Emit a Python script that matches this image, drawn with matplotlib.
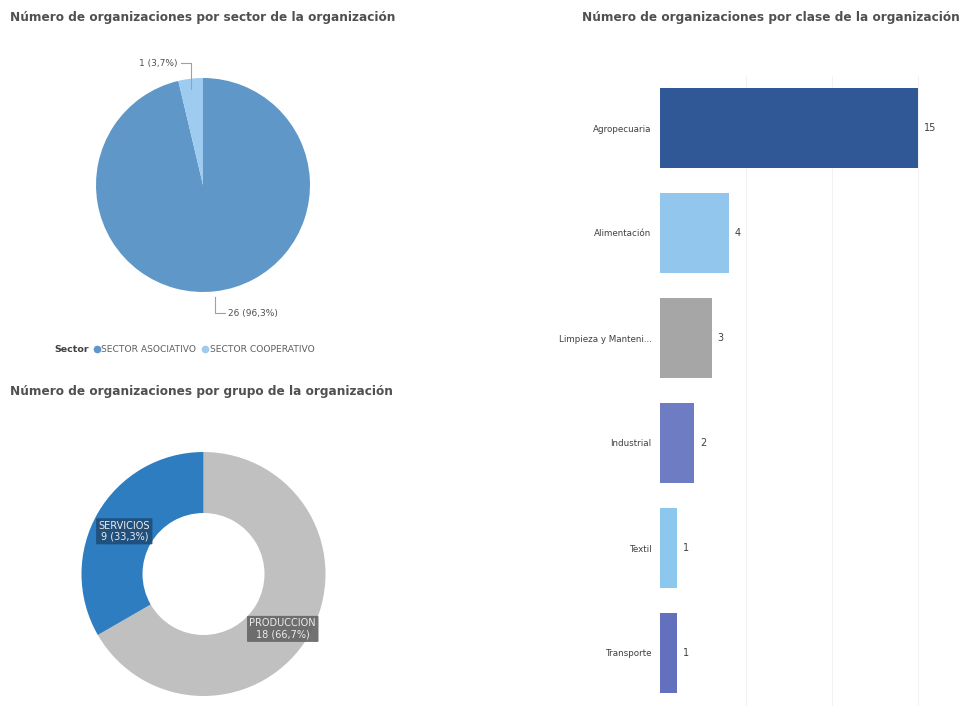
import numpy as np
import matplotlib
matplotlib.use("Agg")
import matplotlib.pyplot as plt
from matplotlib.lines import Line2D

plt.rcParams['font.family'] = ['DejaVu Sans']

# data
sector_names = ['SECTOR ASOCIATIVO', 'SECTOR COOPERATIVO']
sector_vals = [26, 1]
sector_colors = ['#5f98c8', '#9dccf0']

grupo_names = ['PRODUCCION', 'SERVICIOS']
grupo_vals = [18, 9]
grupo_colors = ['#c0c0c0', '#2e7dc0']

clase_names = ['Agropecuaria', 'Alimentación', 'Limpieza y Manteni...', 'Industrial', 'Textil', 'Transporte']
clase_vals = [15, 4, 3, 2, 1, 1]
clase_colors = ['#305796', '#92c6ec', '#a6a6a6', '#6e7dc3', '#8cc8ee', '#6270be']

W, H = 960, 706
fig = plt.figure(figsize=(W / 100, H / 100), dpi=100)


def box(x0, y0, x1, y1):
    # pixel box (top-left origin) -> figure fraction
    return [x0 / W, 1 - y1 / H, (x1 - x0) / W, (y1 - y0) / H]


def pct(v, tot):
    return f"{v} ({100 * v / tot:.1f}%)".replace('.', ',')


title_kw = dict(fontsize=8.7, color='#505050', fontweight='bold')
fig.text(10 / W, 1 - 18 / H, 'Número de organizaciones por sector de la organización', va='center', **title_kw)
fig.text(582 / W, 1 - 18 / H, 'Número de organizaciones por clase de la organización', va='center', **title_kw)
fig.text(10 / W, 1 - 392 / H, 'Número de organizaciones por grupo de la organización', va='center', **title_kw)

# pie: sector
r = 107
cx, cy = 203, 185
ax1 = fig.add_axes(box(cx - r, cy - r, cx + r, cy + r))
total = sum(sector_vals)
wedges, _ = ax1.pie(sector_vals, colors=sector_colors, startangle=90, counterclock=False,
                    radius=1, wedgeprops=dict(linewidth=0))
ax1.set_xlim(-1, 1)
ax1.set_ylim(-1, 1)
ax1.set_aspect('equal')
for w, v in zip(wedges, sector_vals):
    mid = np.deg2rad((w.theta1 + w.theta2) / 2)
    px, py = np.cos(mid), np.sin(mid)
    if py > 0:
        ax1.plot([px, px, px - 0.09], [py - 0.1, 1.14, 1.14], color='#a0a0a0', lw=0.8, clip_on=False)
        ax1.text(px - 0.12, 1.14, pct(v, total), ha='right', va='center', fontsize=6.5, color='#505050')
    else:
        ax1.plot([px, px, px + 0.09], [py - 0.05, -1.2, -1.2], color='#a0a0a0', lw=0.8, clip_on=False)
        ax1.text(px + 0.12, -1.2, pct(v, total), ha='left', va='center', fontsize=6.5, color='#505050')

# legend
fig.text(54 / W, 1 - 350 / H, 'Sector', fontsize=6.8, fontweight='bold', color='#404040', va='center')
handles = [Line2D([], [], marker='o', ls='', color=c, markersize=4.5) for c in sector_colors]
fig.legend(handles, sector_names, loc='center left', bbox_to_anchor=(92 / W, 1 - 350 / H),
           ncol=2, frameon=False, fontsize=6.6, handletextpad=0.0, columnspacing=0.5,
           borderaxespad=0, borderpad=0, labelcolor='#606060', handlelength=1.0)

# donut: grupo
r2 = 122
dx, dy = 203.5, 574
ax2 = fig.add_axes(box(dx - r2, dy - r2, dx + r2, dy + r2))
total2 = sum(grupo_vals)
wedges2, _ = ax2.pie(grupo_vals, colors=grupo_colors, startangle=90, counterclock=False,
                     radius=1, wedgeprops=dict(width=0.5, linewidth=0))
ax2.set_xlim(-1, 1)
ax2.set_ylim(-1, 1)
ax2.set_aspect('equal')
box_colors = ['#666666', '#1f4e79']
for w, n, v, bc in zip(wedges2, grupo_names, grupo_vals, box_colors):
    mid = np.deg2rad((w.theta1 + w.theta2) / 2)
    ax2.text(0.75 * np.cos(mid), 0.8 * np.sin(mid) - 0.05, f"{n}\n{pct(v, total2)}", ha='center', va='center',
             fontsize=7, color='#ececec', linespacing=1.15,
             bbox=dict(boxstyle='round,pad=0.25,rounding_size=0.1', fc=bc, ec='none', alpha=0.92))

# bars: clase
ax3 = fig.add_axes(box(660, 75.5, 955, 705.5))
y = np.arange(len(clase_vals))
ax3.barh(y, clase_vals, height=0.77, color=clase_colors)
ax3.set_ylim(len(clase_vals) - 0.5, -0.5)
ax3.set_xlim(0, 295 / 17.2)
ax3.set_yticks(y)
ax3.set_yticklabels(clase_names, fontsize=6.3, color='#404040')
ax3.set_xticks([5, 10, 15])
ax3.tick_params(length=0, labelbottom=False, pad=6)
ax3.grid(axis='x', color='#f2f2f2', lw=0.8)
ax3.set_axisbelow(True)
for s in ax3.spines.values():
    s.set_visible(False)
for yi, v in zip(y, clase_vals):
    ax3.text(v + 0.35, yi, str(v), va='center', ha='left', fontsize=7, color='#404040')

fig.savefig('out.png', dpi=100, facecolor='white')
